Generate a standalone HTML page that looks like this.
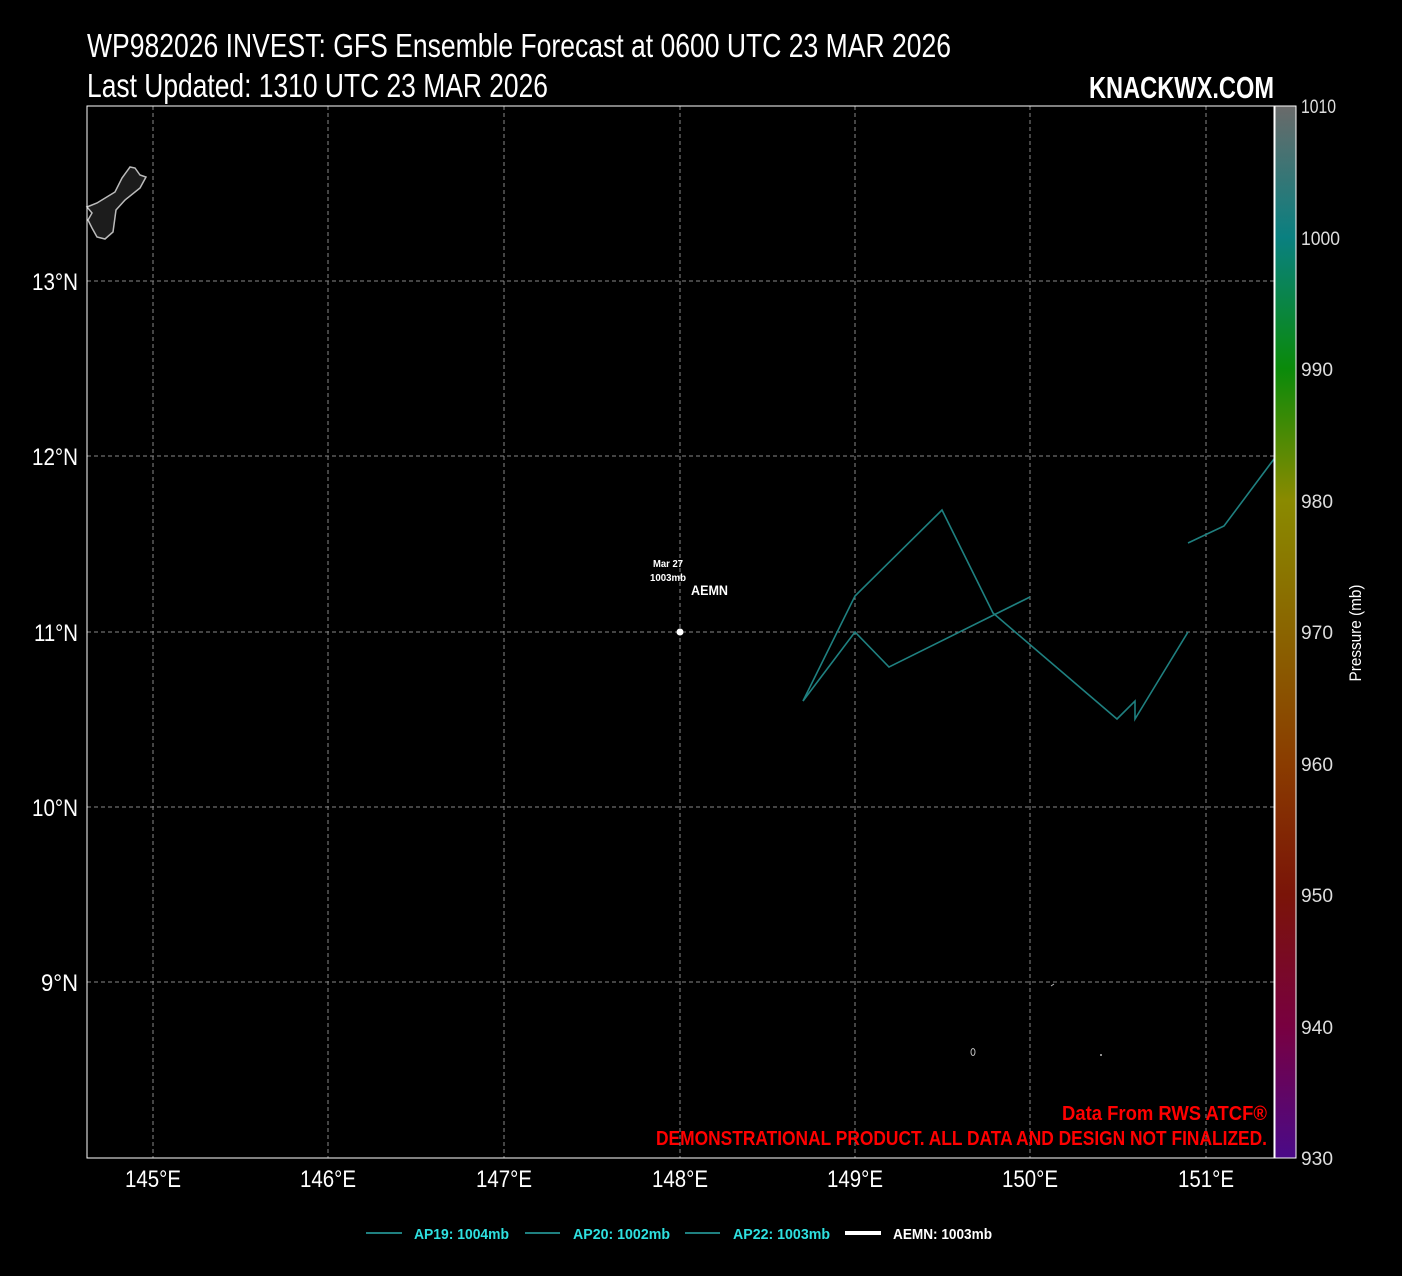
<!DOCTYPE html>
<html><head><style>
html,body{margin:0;padding:0;background:#000;}
svg{display:block;}
text{font-family:"Liberation Sans",sans-serif;}
</style></head><body>
<svg width="1402" height="1276" viewBox="0 0 1402 1276" xmlns="http://www.w3.org/2000/svg">
<defs>
<linearGradient id="cb" x1="0" y1="0" x2="0" y2="1">
<stop offset="0" stop-color="#6a6a6a"/>
<stop offset="0.125" stop-color="#0a8080"/>
<stop offset="0.25" stop-color="#0a8a0a"/>
<stop offset="0.375" stop-color="#8a8a00"/>
<stop offset="0.5" stop-color="#8a6400"/>
<stop offset="0.625" stop-color="#8a3c00"/>
<stop offset="0.75" stop-color="#7a1408"/>
<stop offset="0.875" stop-color="#780040"/>
<stop offset="1" stop-color="#4a0a88"/>
</linearGradient>
</defs>
<rect width="1402" height="1276" fill="#000"/>
<text x="87" y="57" fill="#fff" font-size="33" textLength="864" lengthAdjust="spacingAndGlyphs">WP982026 INVEST: GFS Ensemble Forecast at 0600 UTC 23 MAR 2026</text>
<text x="87" y="97" fill="#fff" font-size="33" textLength="461" lengthAdjust="spacingAndGlyphs">Last Updated: 1310 UTC 23 MAR 2026</text>
<text x="1089" y="98" fill="#fff" font-size="31" font-weight="bold" textLength="185" lengthAdjust="spacingAndGlyphs">KNACKWX.COM</text>
<g stroke="#888" stroke-dasharray="4,3" stroke-width="1">
<line x1="153" y1="106" x2="153" y2="1158"/><line x1="328" y1="106" x2="328" y2="1158"/>
<line x1="504" y1="106" x2="504" y2="1158"/><line x1="680" y1="106" x2="680" y2="1158"/>
<line x1="855" y1="106" x2="855" y2="1158"/><line x1="1030" y1="106" x2="1030" y2="1158"/>
<line x1="1206" y1="106" x2="1206" y2="1158"/>
<line x1="87" y1="281" x2="1274" y2="281"/><line x1="87" y1="456" x2="1274" y2="456"/>
<line x1="87" y1="632" x2="1274" y2="632"/><line x1="87" y1="807" x2="1274" y2="807"/>
<line x1="87" y1="982" x2="1274" y2="982"/>
</g>
<path d="M87,207 L97,203 L115,192 L122,178 L130,167 L135,168 L140,175 L146,177 L140,188 L125,200 L116,210 L113,232 L105,239 L97,237 L92,228 L88,220 L92,213 Z" fill="#1c1c1c" stroke="#bbb" stroke-width="1.5"/>
<ellipse cx="973" cy="1052" rx="2" ry="3.5" fill="none" stroke="#bbb" stroke-width="1"/>
<circle cx="1101" cy="1055" r="1" fill="#bbb"/>
<line x1="1051" y1="986" x2="1054" y2="984" stroke="#bbb"/>
<g fill="none" stroke="#1f8080" stroke-width="1.6">
<polyline points="803,701 855,596 942,510 993,613 1117,719 1135,701 1135,719 1188,632"/>
<polyline points="803,701 855,632 889,667 1030,597"/>
<polyline points="1188,543 1224,526 1274,459"/>
</g>
<circle cx="680" cy="632" r="3.5" fill="#fff"/>
<text x="668" y="567" fill="#fff" font-size="10" font-weight="bold" text-anchor="middle" textLength="30" lengthAdjust="spacingAndGlyphs">Mar 27</text>
<text x="668" y="581" fill="#fff" font-size="10" font-weight="bold" text-anchor="middle" textLength="36" lengthAdjust="spacingAndGlyphs">1003mb</text>
<text x="691" y="595" fill="#fff" font-size="14" font-weight="bold" textLength="37" lengthAdjust="spacingAndGlyphs">AEMN</text>
<text x="1267" y="1120" fill="#f00" font-size="20" font-weight="bold" text-anchor="end" textLength="205" lengthAdjust="spacingAndGlyphs">Data From RWS ATCF®</text>
<text x="1267" y="1145" fill="#f00" font-size="20" font-weight="bold" text-anchor="end" textLength="611" lengthAdjust="spacingAndGlyphs">DEMONSTRATIONAL PRODUCT. ALL DATA AND DESIGN NOT FINALIZED.</text>
<rect x="87" y="106" width="1187" height="1052" fill="none" stroke="#fff" stroke-width="1"/>
<g fill="#fff" font-size="24" text-anchor="middle">
<text x="153" y="1187" textLength="56" lengthAdjust="spacingAndGlyphs">145°E</text><text x="328" y="1187" textLength="56" lengthAdjust="spacingAndGlyphs">146°E</text><text x="504" y="1187" textLength="56" lengthAdjust="spacingAndGlyphs">147°E</text>
<text x="680" y="1187" textLength="56" lengthAdjust="spacingAndGlyphs">148°E</text><text x="855" y="1187" textLength="56" lengthAdjust="spacingAndGlyphs">149°E</text><text x="1030" y="1187" textLength="56" lengthAdjust="spacingAndGlyphs">150°E</text>
<text x="1206" y="1187" textLength="56" lengthAdjust="spacingAndGlyphs">151°E</text>
</g>
<g fill="#fff" font-size="24" text-anchor="end">
<text x="78" y="290" textLength="46" lengthAdjust="spacingAndGlyphs">13°N</text><text x="78" y="465" textLength="46" lengthAdjust="spacingAndGlyphs">12°N</text><text x="78" y="641" textLength="44" lengthAdjust="spacingAndGlyphs">11°N</text>
<text x="78" y="816" textLength="46" lengthAdjust="spacingAndGlyphs">10°N</text><text x="78" y="991" textLength="37" lengthAdjust="spacingAndGlyphs">9°N</text>
</g>
<rect x="1275" y="106" width="21" height="1052" fill="url(#cb)" stroke="#fff" stroke-width="1"/>
<g fill="#ddd" font-size="19">
<text x="1301" y="113" textLength="35" lengthAdjust="spacingAndGlyphs">1010</text><text x="1301" y="245" textLength="39" lengthAdjust="spacingAndGlyphs">1000</text><text x="1301" y="376" textLength="32" lengthAdjust="spacingAndGlyphs">990</text>
<text x="1301" y="508" textLength="32" lengthAdjust="spacingAndGlyphs">980</text><text x="1301" y="639" textLength="32" lengthAdjust="spacingAndGlyphs">970</text><text x="1301" y="771" textLength="32" lengthAdjust="spacingAndGlyphs">960</text>
<text x="1301" y="902" textLength="32" lengthAdjust="spacingAndGlyphs">950</text><text x="1301" y="1034" textLength="32" lengthAdjust="spacingAndGlyphs">940</text><text x="1301" y="1165" textLength="32" lengthAdjust="spacingAndGlyphs">930</text>
</g>
<text transform="translate(1361,633) rotate(-90)" fill="#fff" font-size="17" text-anchor="middle" textLength="97" lengthAdjust="spacingAndGlyphs">Pressure (mb)</text>
<g stroke-width="2">
<line x1="366" y1="1233" x2="402" y2="1233" stroke="#1f8080"/>
<line x1="525" y1="1233" x2="560" y2="1233" stroke="#1f8080"/>
<line x1="685" y1="1233" x2="720" y2="1233" stroke="#1f8080"/>
<line x1="845" y1="1233" x2="881" y2="1233" stroke="#fff" stroke-width="4"/>
</g>
<g font-size="15" font-weight="bold">
<text x="414" y="1239" fill="#2ee0e0" textLength="95" lengthAdjust="spacingAndGlyphs">AP19: 1004mb</text>
<text x="573" y="1239" fill="#2ee0e0" textLength="97" lengthAdjust="spacingAndGlyphs">AP20: 1002mb</text>
<text x="733" y="1239" fill="#2ee0e0" textLength="97" lengthAdjust="spacingAndGlyphs">AP22: 1003mb</text>
<text x="893" y="1239" fill="#fff" textLength="99" lengthAdjust="spacingAndGlyphs">AEMN: 1003mb</text>
</g>
</svg>
</body></html>
